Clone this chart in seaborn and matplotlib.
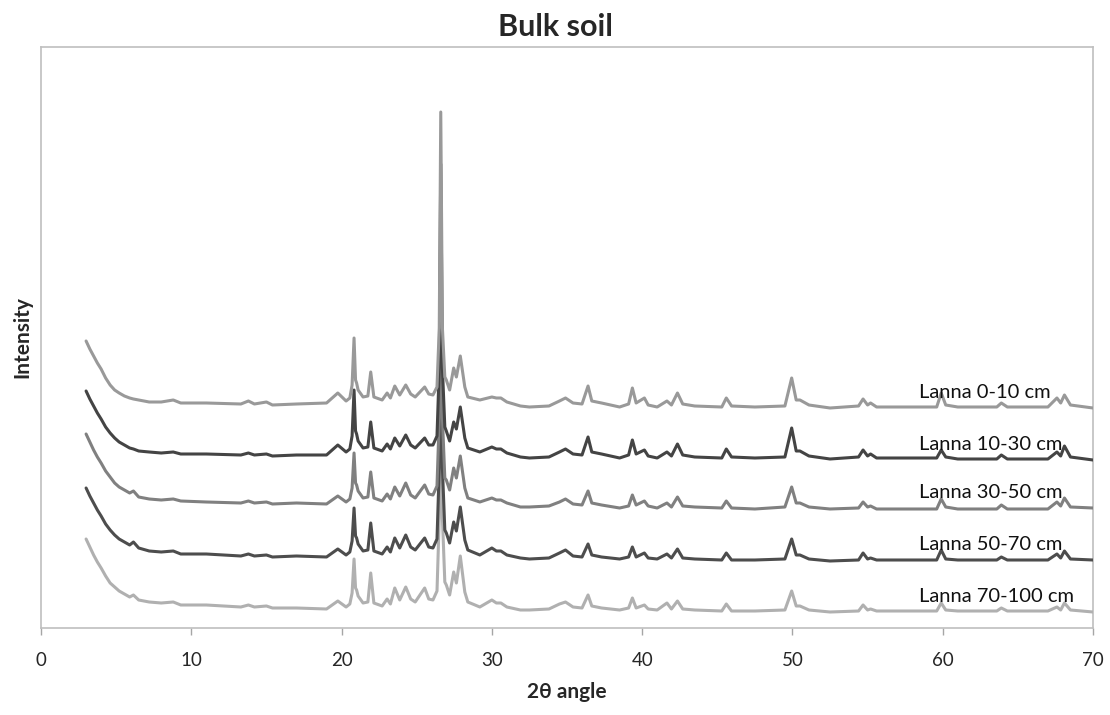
import matplotlib
matplotlib.use("Agg")
import matplotlib.pyplot as plt
import seaborn as sns
import pandas as pd

# 2-theta positions (degrees)
two_theta = [
    3.0, 3.25, 3.5, 3.75, 4.0, 4.3, 4.6, 4.9, 5.2, 5.55, 5.9, 6.15, 6.5, 7.2, 8.0,
    8.8, 9.3, 11.0, 13.3, 13.8, 14.2, 15.0, 15.4, 17.0, 19.0,
    19.75, 20.3, 20.55, 20.7, 20.83, 20.93, 21.0, 21.1, 21.43, 21.75,
    21.94, 22.15, 22.7, 23.03, 23.25, 23.54, 23.87, 24.27, 24.6, 24.9,
    25.53, 25.8, 26.08, 26.35, 26.5, 26.6, 26.71, 26.87, 26.97, 27.19,
    27.46, 27.64, 27.9, 28.2, 28.4, 29.2, 30.0, 30.3, 30.6, 31.0,
    31.9, 32.5, 33.8, 34.5, 34.9, 35.4, 36.0, 36.4, 36.65, 37.3,
    38.5, 39.1, 39.35, 39.6, 40.15, 40.4, 41.0, 41.65, 41.95, 42.35,
    42.7, 43.5, 45.3, 45.6, 45.95, 47.5, 49.5, 49.95, 50.25, 50.5,
    51.1, 52.5, 54.4, 54.7, 55.0, 55.2, 55.6, 57.0, 59.6, 59.9,
    60.2, 61.0, 63.6, 63.9, 64.3, 67.0, 67.6, 67.85, 68.1, 68.5, 70.0,
]

# Intensities (arbitrary units, stacked as in the figure)
lanna_0_10 = [
    287, 279, 272, 265, 259, 250, 243, 238, 235, 232, 230, 229, 228, 226, 226,
    228, 225, 225, 224, 227, 224, 226, 223, 224, 225,
    235, 227, 230, 243, 290, 248, 245, 238, 231, 232,
    256, 231, 228, 235, 230, 242, 233, 243, 234, 231,
    241, 234, 233, 241, 300, 516, 300, 251, 248, 238,
    260, 251, 272, 241, 231, 228, 231, 230, 230, 226,
    222, 221, 222, 227, 230, 225, 224, 242, 227, 225,
    221, 224, 240, 225, 230, 223, 221, 227, 223, 235,
    224, 222, 221, 230, 222, 221, 222, 250, 228, 228,
    223, 220, 222, 229, 223, 225, 221, 221, 221, 235,
    223, 221, 221, 225, 221, 221, 230, 225, 233, 223, 220,
]
lanna_10_30 = [
    237, 229, 222, 215, 209, 201, 195, 190, 186, 183, 180, 179, 177, 176, 175,
    176, 174, 174, 173, 175, 173, 174, 172, 173, 173,
    183, 176, 179, 192, 238, 197, 194, 187, 180, 181,
    206, 180, 177, 184, 179, 190, 182, 193, 183, 180,
    190, 183, 183, 192, 260, 464, 260, 201, 197, 187,
    206, 199, 221, 190, 180, 176, 181, 179, 179, 175,
    171, 170, 171, 176, 179, 174, 173, 191, 176, 174,
    170, 173, 188, 174, 178, 172, 170, 176, 172, 184,
    173, 171, 170, 179, 171, 170, 171, 200, 177, 177,
    172, 169, 171, 178, 172, 174, 170, 170, 170, 178,
    171, 169, 169, 173, 169, 169, 176, 172, 182, 171, 168,
]
lanna_30_50 = [
    194, 186, 178, 171, 165, 157, 151, 145, 141, 138, 135, 137, 131, 129, 128,
    129, 127, 126, 125, 127, 125, 126, 124, 125, 124,
    132, 126, 129, 140, 175, 145, 143, 137, 130, 131,
    156, 130, 127, 134, 129, 141, 132, 145, 133, 130,
    143, 134, 133, 142, 210, 415, 210, 150, 148, 138,
    160, 150, 172, 140, 130, 126, 130, 128, 128, 125,
    121, 121, 122, 126, 129, 124, 123, 137, 125, 123,
    120, 122, 133, 123, 127, 122, 120, 125, 121, 131,
    122, 121, 120, 127, 120, 119, 121, 141, 125, 125,
    121, 119, 120, 126, 121, 122, 119, 119, 119, 129,
    121, 119, 119, 123, 119, 119, 126, 122, 130, 121, 120,
]
lanna_50_70 = [
    140, 132, 125, 118, 112, 104, 98, 93, 89, 86, 83, 86, 80, 77, 76,
    77, 74, 74, 72, 74, 72, 73, 71, 72, 71,
    79, 73, 76, 87, 120, 92, 90, 84, 77, 78,
    105, 77, 74, 81, 76, 90, 80, 93, 81, 78,
    90, 81, 80, 89, 160, 363, 160, 98, 95, 85,
    106, 97, 121, 88, 78, 73, 80, 77, 77, 73,
    70, 69, 70, 75, 78, 72, 71, 84, 73, 71,
    69, 71, 81, 71, 75, 70, 69, 74, 70, 79,
    70, 69, 68, 75, 68, 68, 69, 89, 73, 73,
    69, 67, 68, 75, 69, 70, 68, 68, 68, 78,
    69, 68, 68, 71, 68, 68, 74, 70, 77, 69, 68,
]
lanna_70_100 = [
    89, 81, 73, 66, 60, 52, 45, 41, 37, 34, 31, 33, 28, 26, 25,
    26, 23, 23, 21, 23, 21, 22, 20, 20, 19,
    27, 21, 24, 35, 69, 40, 38, 32, 25, 26,
    55, 25, 22, 29, 24, 40, 28, 41, 29, 26,
    40, 29, 28, 37, 110, 312, 110, 46, 43, 33,
    56, 45, 72, 36, 26, 21, 28, 25, 25, 21,
    18, 18, 19, 24, 26, 21, 20, 33, 22, 20,
    18, 20, 30, 20, 23, 19, 18, 25, 19, 27,
    19, 18, 17, 24, 17, 17, 18, 37, 22, 22,
    18, 16, 17, 23, 18, 19, 17, 17, 17, 25,
    18, 17, 17, 20, 17, 17, 21, 18, 25, 18, 16,
]

series_names = ["Lanna 0-10 cm", "Lanna 10-30 cm", "Lanna 30-50 cm",
                "Lanna 50-70 cm", "Lanna 70-100 cm"]
series_values = [lanna_0_10, lanna_10_30, lanna_30_50, lanna_50_70, lanna_70_100]
label_y = [235, 183, 135, 83, 31]
label_x = 58.4
x_ticks = [0, 10, 20, 30, 40, 50, 60, 70]

colors = ["#999999", "#444444", "#808080", "#4d4d4d", "#b0b0b0"]

sns.set_style("white")
plt.rcParams["font.family"] = ["Lato", "DejaVu Sans"]

fig = plt.figure(figsize=(11.10, 7.15), dpi=100)
ax = fig.add_axes([41 / 1110, 87 / 715, (1093 - 41) / 1110, (628 - 47) / 715])

for i, (name, vals) in enumerate(zip(series_names, series_values)):
    df = pd.DataFrame({"two_theta": two_theta, "intensity": vals})
    sns.lineplot(data=df, x="two_theta", y="intensity", ax=ax, color=colors[i],
                 linewidth=2.2, sort=False, estimator=None, zorder=10 - i)
    ax.text(label_x, label_y[i], name, fontsize=14.5, va="center", ha="left",
            color="#111111", zorder=20)

ax.set_xlim(0, 70)
ax.set_ylim(0, 581)
ax.set_xticks(x_ticks)
ax.set_xticklabels([str(t) for t in x_ticks], fontsize=13.5)
ax.set_yticks([])
ax.tick_params(axis="x", direction="out", length=5, width=1, color="#a6a6a6",
               pad=12, bottom=True)
for s in ax.spines.values():
    s.set_color("#bfbfbf")
    s.set_linewidth(1.2)

ax.set_xlabel("2θ angle", fontsize=15, fontweight="bold", labelpad=10)
ax.set_ylabel("Intensity", fontsize=15, fontweight="bold", labelpad=6)
fig.text(0.5, 1 - 27 / 715, "Bulk soil", ha="center", va="center",
         fontsize=22, fontweight="bold")

fig.savefig("out.png", dpi=100)
